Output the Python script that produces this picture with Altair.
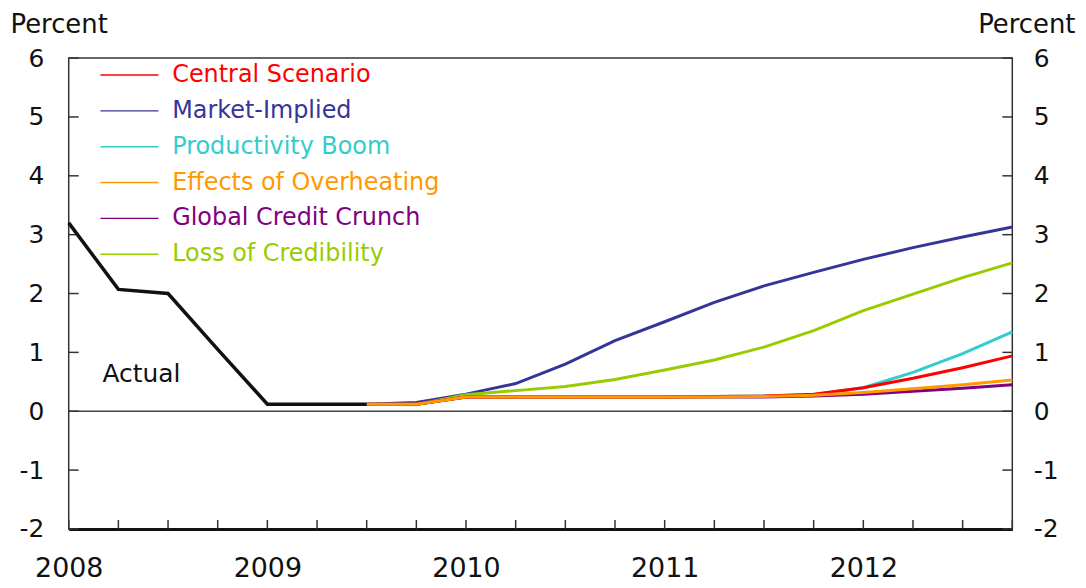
import altair as alt
import pandas as pd

# ---- data ----
year_labels = [2008, 2009, 2010, 2011, 2012]
year_positions = [0, 4, 8, 12, 16]          # quarter index of each year label
quarter_index = list(range(20))              # 2008Q1 .. 2012Q4
y_ticks = [-2, -1, 0, 1, 2, 3, 4, 5, 6]

actual_q = [0, 1, 2, 3, 4, 5, 6]
actual_vals = [3.2, 2.07, 2.0, 1.05, 0.12, 0.12, 0.12]

forecast_q = list(range(6, 20))
series_names = ["Central Scenario", "Market-Implied", "Productivity Boom",
                "Effects of Overheating", "Global Credit Crunch", "Loss of Credibility"]
series_colors = ["#ff0000", "#353599", "#33cccc", "#ff9900", "#800080", "#99cc00"]

central = [0.12, 0.12, 0.24, 0.24, 0.24, 0.24, 0.24, 0.25, 0.26, 0.29, 0.40, 0.56, 0.74, 0.94]
market = [0.12, 0.15, 0.29, 0.47, 0.80, 1.20, 1.52, 1.85, 2.13, 2.36, 2.58, 2.78, 2.96, 3.13]
productivity = [0.12, 0.12, 0.24, 0.24, 0.24, 0.24, 0.24, 0.25, 0.26, 0.28, 0.40, 0.66, 0.98, 1.35]
overheating = [0.12, 0.12, 0.24, 0.24, 0.24, 0.24, 0.24, 0.24, 0.25, 0.27, 0.32, 0.38, 0.45, 0.53]
crunch = [0.12, 0.12, 0.24, 0.24, 0.24, 0.24, 0.24, 0.24, 0.24, 0.26, 0.29, 0.34, 0.39, 0.45]
credibility = [0.12, 0.11, 0.28, 0.35, 0.42, 0.54, 0.70, 0.87, 1.09, 1.37, 1.71, 1.99, 2.27, 2.52]

annotation_text = "Actual"
annotation_q = 0.68
annotation_v = 0.64

# ---- tables ----
series_values = {
    "Central Scenario": central,
    "Market-Implied": market,
    "Productivity Boom": productivity,
    "Effects of Overheating": overheating,
    "Global Credit Crunch": crunch,
    "Loss of Credibility": credibility,
}
draw_order = ["Market-Implied", "Loss of Credibility", "Productivity Boom",
              "Global Credit Crunch", "Central Scenario", "Effects of Overheating"]
rows = []
for name in draw_order:
    for q, v in zip(forecast_q, series_values[name]):
        rows.append({"q": q, "v": v, "series": name})
df_lines = pd.DataFrame(rows)
df_actual = pd.DataFrame({"q": actual_q, "v": actual_vals})
df_yt = pd.DataFrame({"v": y_ticks})
df_qt = pd.DataFrame({"q": quarter_index})
df_zero = pd.DataFrame({"v": [0]})
df_text = pd.DataFrame({"q": [annotation_q], "v": [annotation_v], "t": [annotation_text]})

W, H = 948, 473
FONT = "DejaVu Sans"

xscale = alt.Scale(domain=[quarter_index[0], quarter_index[-1]], nice=False, zero=False)
yscale = alt.Scale(domain=[y_ticks[0], y_ticks[-1]], nice=False, zero=False)

x_axis = alt.Axis(values=year_positions,
                  labelExpr=f"'' + ({year_labels[0]} + datum.value / 4)",
                  tickSize=0, domain=True, domainWidth=3, domainColor="#111",
                  labelFont=FONT, labelFontSize=27, labelColor="#111",
                  labelPadding=27, labelAlign="center", grid=False, title=None)

left_axis = alt.Axis(orient="left", values=y_ticks, tickSize=0, domain=False, grid=False,
                     labelExpr="'' + datum.value",
                     labelFont=FONT, labelFontSize=25, labelColor="#111", labelPadding=25,
                     labelBaseline="middle",
                     title="Percent", titleAngle=0, titleAlign="left", titleBaseline="top",
                     titleX=-59, titleY=-47, titleFont=FONT, titleFontSize=26,
                     titleFontWeight="normal", titleColor="#111")

right_axis = alt.Axis(orient="right", values=y_ticks, tickSize=0, domain=False, grid=False,
                      labelExpr="'' + datum.value",
                      labelFont=FONT, labelFontSize=25, labelColor="#111", labelPadding=21,
                      labelBaseline="middle",
                      title="Percent", titleAngle=0, titleAlign="right", titleBaseline="top",
                      titleX=63, titleY=-47, titleFont=FONT, titleFontSize=26,
                      titleFontWeight="normal", titleColor="#111")

zero = alt.Chart(df_zero).mark_rule(color="#444", strokeWidth=1.5).encode(
    y=alt.Y("v:Q", scale=yscale, axis=None))

lticks = alt.Chart(df_yt).mark_rule(color="#333", strokeWidth=1.5).encode(
    y=alt.Y("v:Q", scale=yscale, axis=left_axis), x=alt.value(0), x2=alt.value(10))

rticks = alt.Chart(df_yt).mark_rule(color="#333", strokeWidth=1.5).encode(
    y=alt.Y("v:Q", scale=yscale, axis=right_axis), x=alt.value(W - 10), x2=alt.value(W))

bticks = alt.Chart(df_qt).mark_rule(color="#333", strokeWidth=1.5).encode(
    x=alt.X("q:Q", scale=xscale, axis=x_axis), y=alt.value(H - 9), y2=alt.value(H))

lines = alt.Chart(df_lines).mark_line(strokeWidth=3).encode(
    x=alt.X("q:Q", scale=xscale, axis=x_axis),
    y=alt.Y("v:Q", scale=yscale, axis=None),
    color=alt.Color("series:N",
                    scale=alt.Scale(domain=series_names, range=series_colors),
                    legend=alt.Legend(orient="none", legendX=49, legendY=5,
                                      direction="vertical", title=None, padding=0,
                                      symbolType="M-5.3,0H5.3", symbolSize=121,
                                      symbolStrokeWidth=1.5, labelOffset=31,
                                      labelFont=FONT, labelFontSize=24,
                                      labelColor=alt.ExprRef("scale('color', datum.value)"),
                                      rowPadding=12, labelLimit=400)),
    detail="series:N",
)

actual = alt.Chart(df_actual).mark_line(strokeWidth=3.5, color="#111").encode(
    x=alt.X("q:Q", scale=xscale, axis=x_axis),
    y=alt.Y("v:Q", scale=yscale, axis=None))

text = alt.Chart(df_text).mark_text(align="left", baseline="middle", font=FONT,
                                    fontSize=25, color="#111").encode(
    x=alt.X("q:Q", scale=xscale, axis=x_axis),
    y=alt.Y("v:Q", scale=yscale, axis=None),
    text="t:N")

chart = alt.layer(zero, lticks, rticks, bticks, lines, actual, text).resolve_axis(
    y="independent"
).properties(
    width=W, height=H,
    background="white",
    autosize=alt.AutoSizeParams(type="none"),
    padding={"left": 61, "top": 49, "right": 66, "bottom": 58},
).configure_view(stroke="#333", strokeWidth=1.5)

chart.save("out.html", embed_options={"renderer": "svg", "actions": False})
